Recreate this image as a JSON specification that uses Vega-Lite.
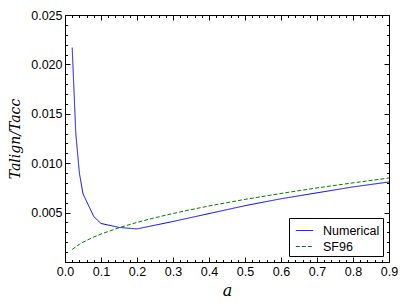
{
  "$schema": "https://vega.github.io/schema/vega-lite/v6.json",
  "width": 324,
  "height": 247,
  "autosize": {"type": "none"},
  "padding": {"left": 65, "top": 15, "right": 18, "bottom": 43},
  "background": "white",
  "config": {
    "view": {"stroke": "black", "strokeWidth": 1},
    "axis": {
      "domain": false,
      "grid": false,
      "labelFont": "Liberation Sans",
      "labelFontSize": 12.5,
      "labelColor": "black",
      "tickColor": "black",
      "tickWidth": 1,
      "labelOverlap": false,
      "labelFlush": false
    }
  },
  "datasets": {
    "curves": [
      {"a": 0.02, "T": 0.0217, "series": "Numerical"},
      {"a": 0.03, "T": 0.0130, "series": "Numerical"},
      {"a": 0.04, "T": 0.0090, "series": "Numerical"},
      {"a": 0.05, "T": 0.0069, "series": "Numerical"},
      {"a": 0.08, "T": 0.0046, "series": "Numerical"},
      {"a": 0.1, "T": 0.0039, "series": "Numerical"},
      {"a": 0.15, "T": 0.0035, "series": "Numerical"},
      {"a": 0.2, "T": 0.00335, "series": "Numerical"},
      {"a": 0.3, "T": 0.0041, "series": "Numerical"},
      {"a": 0.4, "T": 0.0049, "series": "Numerical"},
      {"a": 0.5, "T": 0.0057, "series": "Numerical"},
      {"a": 0.6, "T": 0.0064, "series": "Numerical"},
      {"a": 0.7, "T": 0.0070, "series": "Numerical"},
      {"a": 0.8, "T": 0.0076, "series": "Numerical"},
      {"a": 0.9, "T": 0.0081, "series": "Numerical"},
      {"a": 0.02, "T": 0.00127, "series": "SF96"},
      {"a": 0.04, "T": 0.00179, "series": "SF96"},
      {"a": 0.06, "T": 0.00219, "series": "SF96"},
      {"a": 0.08, "T": 0.00253, "series": "SF96"},
      {"a": 0.1, "T": 0.00283, "series": "SF96"},
      {"a": 0.15, "T": 0.00347, "series": "SF96"},
      {"a": 0.2, "T": 0.00401, "series": "SF96"},
      {"a": 0.25, "T": 0.00448, "series": "SF96"},
      {"a": 0.3, "T": 0.00491, "series": "SF96"},
      {"a": 0.35, "T": 0.0053, "series": "SF96"},
      {"a": 0.4, "T": 0.00567, "series": "SF96"},
      {"a": 0.5, "T": 0.00634, "series": "SF96"},
      {"a": 0.6, "T": 0.00694, "series": "SF96"},
      {"a": 0.7, "T": 0.0075, "series": "SF96"},
      {"a": 0.8, "T": 0.00801, "series": "SF96"},
      {"a": 0.9, "T": 0.0085, "series": "SF96"}
    ]
  },
  "data": {"name": "curves"},
  "layer": [
    {
      "transform": [{"filter": "datum.series === 'Numerical'"}],
      "mark": {"type": "line", "strokeWidth": 1, "clip": true},
      "encoding": {
        "x": {
          "field": "a", "type": "quantitative",
          "scale": {"domain": [0, 0.9], "nice": false, "zero": false},
          "axis": {
            "orient": "bottom",
            "title": "a",
            "titleFont": "DejaVu Serif",
            "titleFontStyle": "italic",
            "titleFontWeight": "normal",
            "titleFontSize": 16,
            "titlePadding": 5,
            "ticks": false,
            "values": [0, 0.1, 0.2, 0.3, 0.4, 0.5, 0.6, 0.7, 0.8, 0.9],
            "format": ".1f",
            "labelPadding": 3
          }
        },
        "y": {
          "field": "T", "type": "quantitative",
          "scale": {"domain": [0, 0.025], "nice": false},
          "axis": {
            "orient": "left",
            "title": "Talign/Tacc",
            "titleFont": "DejaVu Serif",
            "titleFontStyle": "italic",
            "titleFontWeight": "normal",
            "titleFontSize": 14,
            "titlePadding": 8,
            "ticks": false,
            "values": [0.005, 0.01, 0.015, 0.02, 0.025],
            "format": ".3f",
            "labelPadding": 3
          }
        },
        "color": {
          "field": "series", "type": "nominal",
          "scale": {"domain": ["Numerical", "SF96"], "range": ["#0000ff", "#008000"]},
          "legend": {
            "orient": "bottom-right",
            "title": null,
            "offset": 6,
            "strokeColor": "black",
            "fillColor": "white",
            "padding": 3,
            "cornerRadius": 0,
            "symbolType": "stroke",
            "symbolSize": 300,
            "symbolStrokeWidth": 1,
            "symbolOffset": 3,
            "labelFont": "Liberation Sans",
            "labelFontSize": 12.5,
            "labelColor": "black",
            "rowPadding": 0,
            "labelOffset": 9
          }
        },
        "strokeDash": {
          "field": "series", "type": "nominal",
          "scale": {"domain": ["Numerical", "SF96"], "range": [[1, 0], [4, 2]]},
          "legend": {
            "orient": "bottom-right",
            "title": null,
            "offset": 6,
            "strokeColor": "black",
            "fillColor": "white",
            "padding": 3,
            "cornerRadius": 0,
            "symbolType": "stroke",
            "symbolSize": 300,
            "symbolStrokeWidth": 1,
            "symbolOffset": 3,
            "labelFont": "Liberation Sans",
            "labelFontSize": 12.5,
            "labelColor": "black",
            "rowPadding": 0,
            "labelOffset": 9
          }
        }
      }
    },
    {
      "transform": [{"filter": "datum.series === 'SF96'"}],
      "mark": {"type": "line", "strokeWidth": 1, "clip": true},
      "encoding": {
        "x": {
          "field": "a", "type": "quantitative",
          "axis": {
            "orient": "top", "title": null, "labels": false,
            "values": [0, 0.1, 0.2, 0.3, 0.4, 0.5, 0.6, 0.7, 0.8, 0.9],
            "tickSize": 5, "offset": -5
          }
        },
        "y": {
          "field": "T", "type": "quantitative",
          "axis": {
            "orient": "right", "title": null, "labels": false,
            "values": [0, 0.005, 0.01, 0.015, 0.02, 0.025],
            "tickSize": 5, "offset": -5
          }
        },
        "color": {"field": "series", "type": "nominal"},
        "strokeDash": {"field": "series", "type": "nominal"}
      }
    },
    {
      "mark": {"type": "line", "opacity": 0},
      "encoding": {
        "x": {
          "field": "a", "type": "quantitative",
          "axis": {
            "orient": "bottom", "title": null, "labels": false,
            "values": [0, 0.1, 0.2, 0.3, 0.4, 0.5, 0.6, 0.7, 0.8, 0.9],
            "tickSize": 5, "offset": -5
          }
        },
        "y": {
          "field": "T", "type": "quantitative",
          "axis": {
            "orient": "left", "title": null, "labels": false,
            "values": [0, 0.005, 0.01, 0.015, 0.02, 0.025],
            "tickSize": 5, "offset": -5
          }
        },
        "detail": {"field": "series", "type": "nominal"}
      }
    },
    {
      "mark": {"type": "line", "opacity": 0},
      "encoding": {
        "x": {
          "field": "a", "type": "quantitative",
          "axis": {
            "orient": "top", "title": null, "labels": false,
            "values": [0.02,0.04,0.06,0.08,0.12,0.14,0.16,0.18,0.22,0.24,0.26,0.28,0.32,0.34,0.36,0.38,0.42,0.44,0.46,0.48,0.52,0.54,0.56,0.58,0.62,0.64,0.66,0.68,0.72,0.74,0.76,0.78,0.82,0.84,0.86,0.88],
            "tickSize": 2.5, "offset": -2.5
          }
        },
        "y": {
          "field": "T", "type": "quantitative",
          "axis": {
            "orient": "right", "title": null, "labels": false,
            "values": [0.001,0.002,0.003,0.004,0.006,0.007,0.008,0.009,0.011,0.012,0.013,0.014,0.016,0.017,0.018,0.019,0.021,0.022,0.023,0.024],
            "tickSize": 2.5, "offset": -2.5
          }
        },
        "detail": {"field": "series", "type": "nominal"}
      }
    },
    {
      "mark": {"type": "line", "opacity": 0},
      "encoding": {
        "x": {
          "field": "a", "type": "quantitative",
          "axis": {
            "orient": "bottom", "title": null, "labels": false,
            "values": [0.02,0.04,0.06,0.08,0.12,0.14,0.16,0.18,0.22,0.24,0.26,0.28,0.32,0.34,0.36,0.38,0.42,0.44,0.46,0.48,0.52,0.54,0.56,0.58,0.62,0.64,0.66,0.68,0.72,0.74,0.76,0.78,0.82,0.84,0.86,0.88],
            "tickSize": 2.5, "offset": -2.5
          }
        },
        "y": {
          "field": "T", "type": "quantitative",
          "axis": {
            "orient": "left", "title": null, "labels": false,
            "values": [0.001,0.002,0.003,0.004,0.006,0.007,0.008,0.009,0.011,0.012,0.013,0.014,0.016,0.017,0.018,0.019,0.021,0.022,0.023,0.024],
            "tickSize": 2.5, "offset": -2.5
          }
        },
        "detail": {"field": "series", "type": "nominal"}
      }
    }
  ],
  "resolve": {"axis": {"x": "independent", "y": "independent"}}
}
